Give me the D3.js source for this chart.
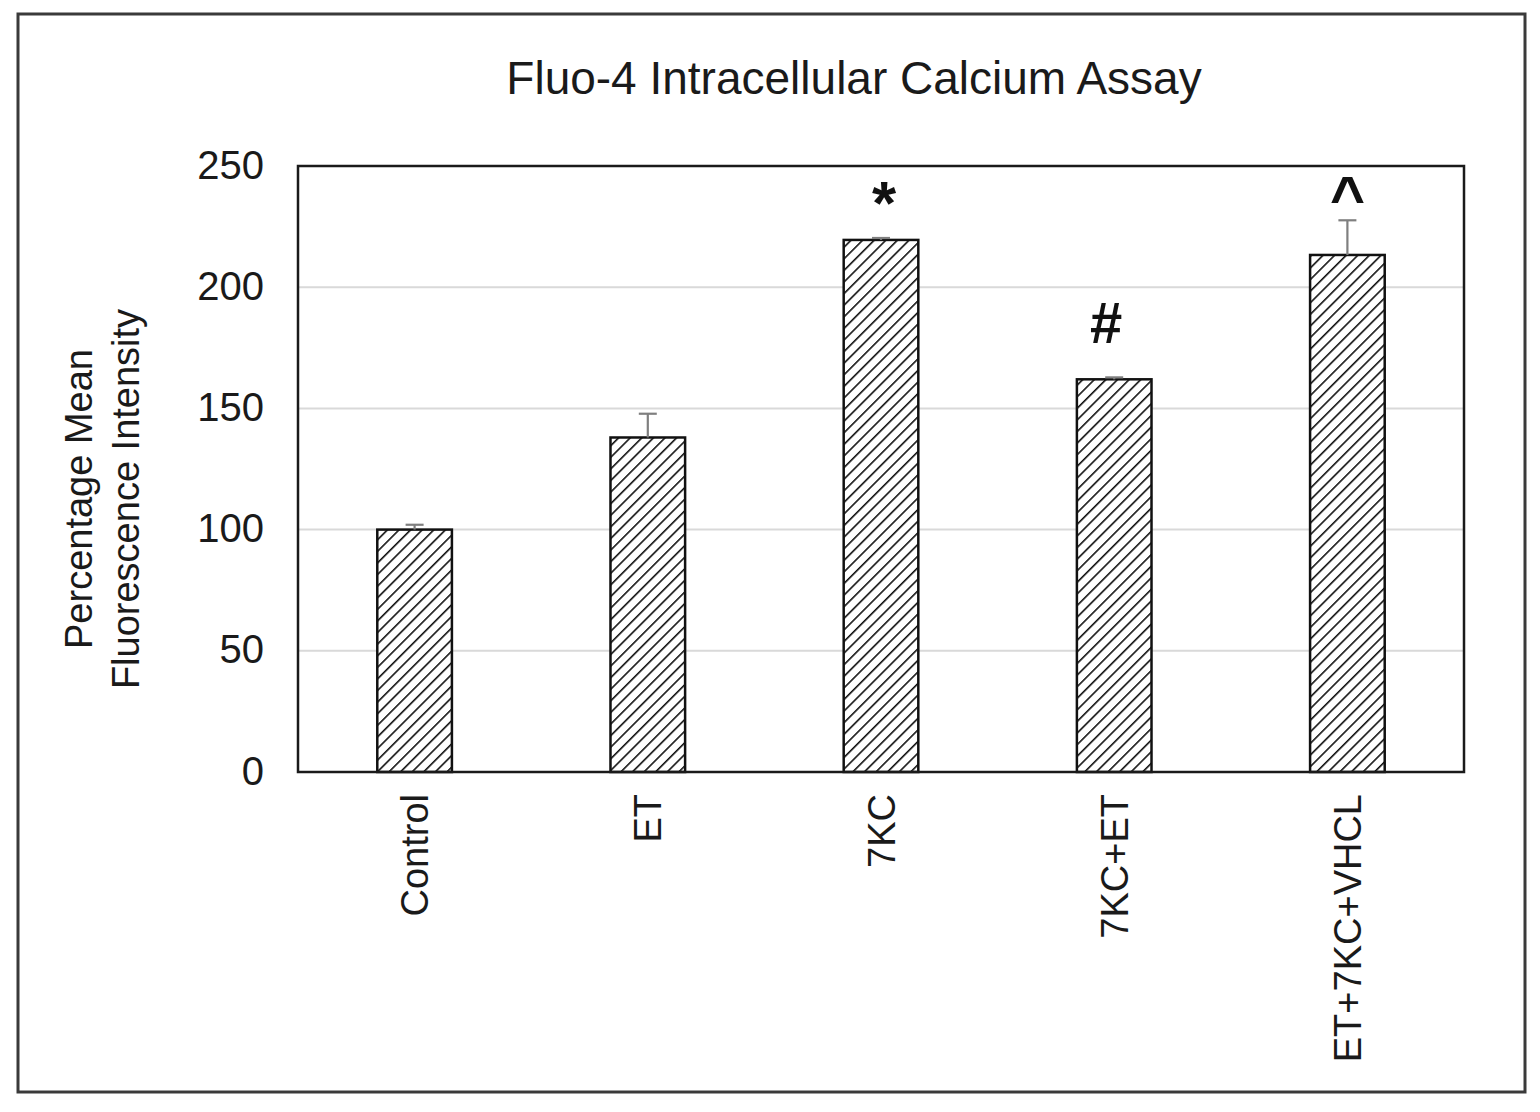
<!DOCTYPE html>
<html>
<head>
<meta charset="utf-8">
<script src="https://cdn.jsdelivr.net/npm/d3@7"></script>
<style>
  html, body { margin: 0; padding: 0; background: #fff; }
  svg { display: block; font-family: "Liberation Sans", Arial, sans-serif; }
</style>
</head>
<body>
<svg id="chart" width="1540" height="1112"></svg>
<script>
// ---- data ----
const categories = ["Control", "ET", "7KC", "7KC+ET", "ET+7KC+VHCL"];
const means = [100, 138, 219.5, 162, 213.3];
const errors = [2, 9.8, 0.8, 0.8, 14.3];
const marks = ["", "", "*", "#", "^"];
const yTicks = [0, 50, 100, 150, 200, 250];
const titleText = "Fluo-4 Intracellular Calcium Assay";
const yTitleLines = ["Percentage Mean", "Fluorescence Intensity"];

// ---- layout ----
const svg = d3.select("#chart");
const plot = { left: 298, right: 1464, top: 166, bottom: 772 };

const x = d3.scaleBand()
  .domain(categories)
  .range([plot.left, plot.right])
  .paddingInner(0.68)
  .paddingOuter(0.34);
const y = d3.scaleLinear().domain([0, 250]).range([plot.bottom, plot.top]);

// outer frame
svg.append("rect")
  .attr("x", 18).attr("y", 14).attr("width", 1507).attr("height", 1078)
  .attr("fill", "#fff").attr("stroke", "#3a3a3a").attr("stroke-width", 3);

// hatch pattern
const hs = 8.2;
const defs = svg.append("defs");
const pat = defs.append("pattern")
  .attr("id", "hatch")
  .attr("patternUnits", "userSpaceOnUse")
  .attr("width", hs).attr("height", hs)
  .attr("patternTransform", "rotate(45)");
pat.append("rect").attr("width", hs).attr("height", hs).attr("fill", "#fff");
pat.append("line")
  .attr("x1", 0).attr("y1", 0).attr("x2", 0).attr("y2", hs)
  .attr("stroke", "#111").attr("stroke-width", 3.2);

// gridlines
svg.append("g")
  .selectAll("line")
  .data(yTicks.filter(t => t > 0 && t < 250))
  .join("line")
  .attr("x1", plot.left).attr("x2", plot.right)
  .attr("y1", d => y(d)).attr("y2", d => y(d))
  .attr("stroke", "#d9d9d9").attr("stroke-width", 2);

// y axis tick labels
const yAxis = d3.axisLeft(y).tickValues(yTicks).tickSize(0).tickPadding(34);
const gy = svg.append("g").attr("transform", `translate(${plot.left},0)`).call(yAxis);
gy.select(".domain").remove();
gy.selectAll("text")
  .attr("font-size", 40)
  .attr("fill", "#1a1a1a")
  .attr("font-family", "Liberation Sans, Arial, sans-serif")
  .attr("dy", "0.3em");

// x axis category labels
const xAxis = d3.axisBottom(x).tickSize(0).tickPadding(0);
const gx = svg.append("g").attr("transform", `translate(0,${plot.bottom})`).call(xAxis);
gx.select(".domain").remove();
gx.selectAll("text")
  .attr("font-size", 38)
  .attr("fill", "#1a1a1a")
  .attr("font-family", "Liberation Sans, Arial, sans-serif")
  .attr("text-anchor", "end")
  .attr("transform", "rotate(-90)")
  .attr("x", -22)
  .attr("y", 0)
  .attr("dy", "0.36em");

// bars
svg.append("g")
  .selectAll("rect")
  .data(categories)
  .join("rect")
  .attr("x", d => x(d))
  .attr("y", (d, i) => y(means[i]))
  .attr("width", x.bandwidth())
  .attr("height", (d, i) => y(0) - y(means[i]))
  .attr("fill", "url(#hatch)")
  .attr("stroke", "#111")
  .attr("stroke-width", 2.5);

// error bars
const eg = svg.append("g").attr("stroke", "#7f7f7f").attr("stroke-width", 2.2);
categories.forEach((c, i) => {
  const cx = x(c) + x.bandwidth() / 2;
  const top = y(means[i] + errors[i]);
  eg.append("line").attr("x1", cx).attr("x2", cx).attr("y1", y(means[i])).attr("y2", top);
  eg.append("line").attr("x1", cx - 9).attr("x2", cx + 9).attr("y1", top).attr("y2", top);
});

// plot border
svg.append("rect")
  .attr("x", plot.left).attr("y", plot.top)
  .attr("width", plot.right - plot.left).attr("height", plot.bottom - plot.top)
  .attr("fill", "none").attr("stroke", "#1a1a1a").attr("stroke-width", 2.5);

// significance marks
const markGap = { "*": 14, "#": 34, "^": 2 };
const markShift = { "*": 3, "#": -8, "^": 0 };
svg.append("g")
  .selectAll("text")
  .data(categories.map((c, i) => ({ c, i, m: marks[i] })).filter(d => d.m))
  .join("text")
  .attr("x", d => x(d.c) + x.bandwidth() / 2 + markShift[d.m])
  .attr("y", d => y(means[d.i] + errors[d.i]) - markGap[d.m])
  .attr("text-anchor", "middle")
  .attr("font-size", d => d.m === "^" ? 60 : (d.m === "*" ? 62 : 58))
  .attr("font-weight", "bold")
  .attr("fill", "#111")
  .text(d => d.m);

// title
svg.append("text")
  .attr("x", 854).attr("y", 94)
  .attr("text-anchor", "middle")
  .attr("font-size", 46)
  .attr("fill", "#1a1a1a")
  .text(titleText);

// y axis title
const yt = svg.append("text")
  .attr("transform", "translate(92,499) rotate(-90)")
  .attr("text-anchor", "middle")
  .attr("font-size", 38)
  .attr("fill", "#1a1a1a");
yTitleLines.forEach((t, i) => {
  yt.append("tspan").attr("x", 0).attr("y", i * 47).text(t);
});
</script>
</body>
</html>
